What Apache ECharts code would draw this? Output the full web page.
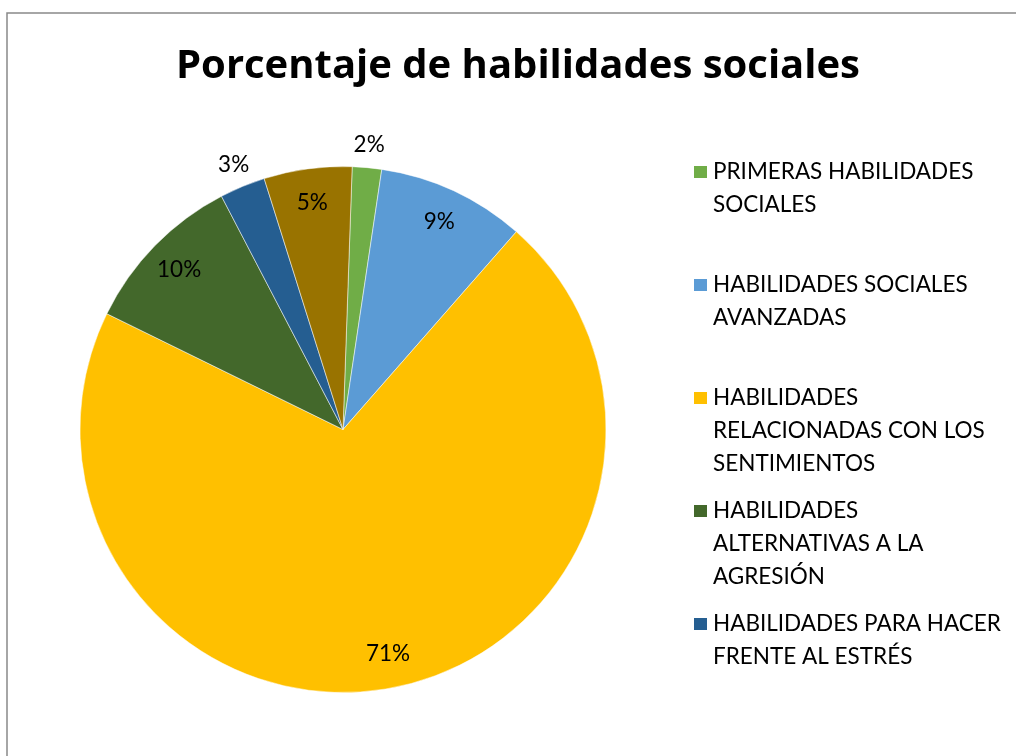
<!DOCTYPE html>
<html>
<head>
<meta charset="utf-8">
<script src="https://cdn.jsdelivr.net/npm/echarts@6/dist/echarts.min.js"></script>
<style>
html,body{margin:0;padding:0;background:#fff;}
#chart{width:1016px;height:756px;}
</style>
</head>
<body>
<div id="chart"></div>
<script>
const titleText = 'Porcentaje de habilidades sociales';
const categories = [
  'PRIMERAS HABILIDADES SOCIALES',
  'HABILIDADES SOCIALES AVANZADAS',
  'HABILIDADES RELACIONADAS CON LOS SENTIMIENTOS',
  'HABILIDADES ALTERNATIVAS A LA AGRESIÓN',
  'HABILIDADES PARA HACER FRENTE AL ESTRÉS',
  'HABILIDADES DE PLANIFICACIÓN'
];
const legendLines = [
  ['PRIMERAS HABILIDADES', 'SOCIALES'],
  ['HABILIDADES SOCIALES', 'AVANZADAS'],
  ['HABILIDADES', 'RELACIONADAS CON LOS', 'SENTIMIENTOS'],
  ['HABILIDADES', 'ALTERNATIVAS A LA', 'AGRESIÓN'],
  ['HABILIDADES PARA HACER', 'FRENTE AL ESTRÉS']
];
const values = [1.8, 9.1, 70.8, 10.1, 2.8, 5.4];
const colors = ['#70AD47', '#5B9BD5', '#FFC000', '#43682B', '#255E91', '#997300'];
const outsideLabel = [true, false, false, false, true, false];

const FONT = 'Lato';
const TITLE_FONT = '"Open Sans"';
const chart = echarts.init(document.getElementById('chart'), null, {renderer: 'canvas'});

// Pad legend text so the first line sits at the icon's centre and all items share a height
function legendText(name) {
  const i = categories.indexOf(name);
  const lines = legendLines[i];
  const padded = ['', ''].concat(lines);
  while (padded.length < 5) padded.push(' ');
  return padded.join('\n');
}

const mainData = categories.map((c, i) => ({name: c, value: values[i], itemStyle: {color: colors[i]}}));
const labelFmt = p => Math.round(p.percent) + '%';

const option = {
  animation: false,
  backgroundColor: '#fff',
  textStyle: {fontFamily: FONT},
  title: {
    text: titleText,
    left: 518, top: 47, padding: 0,
    textAlign: 'center',
    textStyle: {fontFamily: TITLE_FONT, fontWeight: 'bold', fontSize: 40, color: '#000'}
  },
  graphic: [{
    type: 'rect',
    shape: {x: 7, y: 13, width: 1100, height: 800},
    style: {fill: 'none', stroke: '#898989', lineWidth: 1.5},
    silent: true, z: -1
  }],
  legend: {
    orient: 'vertical',
    left: 692, top: 89.5, padding: 0,
    itemWidth: 15, itemHeight: 14, itemGap: -52,
    icon: 'rect',
    selectedMode: false,
    data: categories.slice(0, 5),
    formatter: legendText,
    textStyle: {fontFamily: FONT, fontSize: 22.5, lineHeight: 33, color: '#000'}
  },
  series: [
    {
      type: 'pie',
      center: [343, 429.5],
      radius: 263,
      startAngle: 88,
      clockwise: true,
      silent: true,
      label: {show: false},
      labelLine: {show: false},
      itemStyle: {borderColor: '#fff', borderWidth: 0.5},
      emphasis: {disabled: true},
      data: mainData
    },
    {
      type: 'pie',
      center: [343, 429.5],
      radius: [189, 263],
      startAngle: 88,
      clockwise: true,
      silent: true,
      emphasis: {disabled: true},
      itemStyle: {color: 'rgba(0,0,0,0)'},
      labelLine: {show: false},
      data: categories.map((c, i) => ({
        name: c, value: values[i],
        label: {show: !outsideLabel[i], position: 'inside', formatter: labelFmt,
          fontFamily: FONT, fontSize: 22.5, color: '#000'}
      }))
    },
    {
      type: 'pie',
      center: [343, 429.5],
      radius: [263, 303],
      startAngle: 88,
      clockwise: true,
      silent: true,
      emphasis: {disabled: true},
      itemStyle: {color: 'rgba(0,0,0,0)'},
      labelLine: {show: false},
      data: categories.map((c, i) => ({
        name: c, value: values[i],
        label: {show: outsideLabel[i], position: 'inside', formatter: labelFmt,
          fontFamily: FONT, fontSize: 22.5, color: '#000'}
      }))
    }
  ]
};
chart.setOption(option);
</script>
</body>
</html>
